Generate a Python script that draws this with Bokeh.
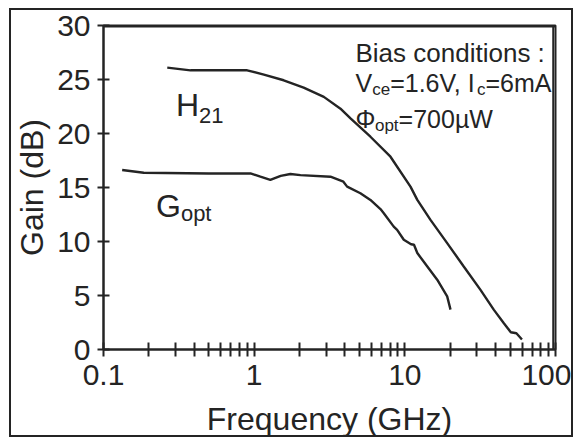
from bokeh.plotting import figure
from bokeh.models import Range1d, FixedTicker, Label
from bokeh.embed import file_html
from bokeh.resources import INLINE

# ---- data ----
h21_freq = [0.265, 0.378, 0.60, 0.898, 1.16, 1.57, 2.13, 2.90, 3.74, 4.36, 5.91, 8.03,
            10.9, 12.1, 14.8, 19.1, 24.6, 31.7, 38.9, 45.3, 50.5, 55.0, 59.9]
h21_gain = [26.1, 25.85, 25.85, 25.85, 25.45, 24.93, 24.25, 23.39, 22.3, 21.4, 19.7, 17.85,
            15.08, 13.85, 12.0, 9.85, 7.69, 5.54, 3.69, 2.46, 1.6, 1.5, 0.92]

gopt_freq = [0.133, 0.185, 0.50, 0.945, 1.10, 1.28, 1.50, 1.74, 2.03, 3.21, 3.91, 4.14,
             5.07, 5.91, 6.89, 7.25, 8.44, 8.89, 9.84, 11.0, 11.5, 12.1, 14.1, 16.4, 19.1, 20.1]
gopt_gain = [16.62, 16.37, 16.3, 16.31, 16.0, 15.7, 16.07, 16.25, 16.15, 16.0, 15.54, 15.08,
             14.47, 13.85, 13.0, 12.62, 11.38, 11.08, 10.16, 9.75, 9.70, 8.93, 7.69, 6.46, 4.92, 3.69]

x_major = [0.1, 1, 10, 100]
x_minor = [0.2, 0.3, 0.4, 0.5, 0.6, 0.7, 0.8, 0.9, 2, 3, 4, 5, 6, 7, 8, 9,
           20, 30, 40, 50, 60, 70, 80, 90]
x_labels = ["0.1", "1", "10", "100"]
y_ticks = [0, 5, 10, 15, 20, 25, 30]

INK = "#242424"
FONT = "Liberation Sans"

# page layout (px): element margin, css border, canvas size, frame edges
ML, MT, BW = 9, 8, 2
W, H = 564, 429
FL, FR, FT, FB = 103, 555, 25, 350
CX, CY = ML + BW, MT + BW  # canvas origin on the page

xr = Range1d(0.1, 100)
yr = Range1d(0, 30)
p = figure(width=W, height=H, x_axis_type="log", x_range=xr, y_range=yr,
           output_backend="svg", toolbar_location=None,
           min_border_left=FL - CX, min_border_right=CX + W - FR,
           min_border_top=FT - CY, min_border_bottom=CY + H - FB)
p.margin = (MT, 0, 0, ML)
p.styles = {"border": f"{BW}px solid {INK}"}
p.grid.visible = False
p.background_fill_color = "white"
p.border_fill_color = "white"
p.outline_line_color = INK
p.outline_line_width = 2

# top and right edges of the frame, drawn just inside it
y_edge = yr.end - 0.1
x_edge = xr.end / 10 ** 0.015
p.segment(x0=[xr.start, x_edge], y0=[y_edge, yr.start], x1=[xr.end, x_edge], y1=[y_edge, yr.end],
          line_color=INK, line_width=2)

p.line(h21_freq, h21_gain, line_color=INK, line_width=2.4)
p.line(gopt_freq, gopt_gain, line_color=INK, line_width=2.4)

# axes
xa = p.below[0]
xa.ticker = FixedTicker(ticks=x_major, minor_ticks=x_minor)
xa.major_label_overrides = {t: s for t, s in zip(x_major, x_labels)}
ya = p.left[0]
ya.ticker = FixedTicker(ticks=y_ticks)
for ax in (xa, ya):
    ax.axis_line_color = INK
    ax.axis_line_width = 2
    ax.major_tick_line_color = INK
    ax.major_tick_line_width = 2
    ax.minor_tick_line_color = INK
    ax.minor_tick_line_width = 2
    ax.major_label_text_font = FONT
    ax.major_label_text_font_size = "30px"
    ax.major_label_text_color = INK
    ax.axis_label_text_font = FONT
    ax.axis_label_text_font_size = "32px"
    ax.axis_label_text_font_style = "normal"
    ax.axis_label_text_color = INK
xa.major_tick_in = 7
xa.major_tick_out = 7
xa.minor_tick_in = 7
xa.minor_tick_out = 7
xa.major_label_standoff = 8
xa.axis_label = "Frequency (GHz)"
xa.axis_label_standoff = 13
ya.major_tick_in = 6
ya.major_tick_out = 6
ya.minor_tick_in = 0
ya.minor_tick_out = 0
ya.major_label_standoff = 7
ya.axis_label = "Gain (dB)"
ya.axis_label_standoff = 4

# ---- text labels ----
ADV = {'B': .667, 'i': .222, 'a': .556, 's': .5, ' ': .278, 'c': .5, 'o': .556, 'n': .556,
       'd': .556, 't': .278, ':': .278, 'V': .667, 'e': .556, '=': .584, '1': .556, '.': .278,
       '6': .556, ',': .278, 'I': .278, 'm': .833, 'A': .667, 'Φ': .778, 'p': .556, '7': .556,
       '0': .556, 'µ': .576, 'W': .944, 'H': .722, '2': .556, 'G': .778}


def px_to_x(px):
    return 10 ** ((px - FL) / (FR - FL) * 3 - 1)


def px_to_y(py):
    return (FB - py) / (FB - FT) * 30


def run(x0, pieces):
    x = x0
    for text, size, base in pieces:
        p.add_layout(Label(x=px_to_x(x), y=px_to_y(base), text=text, text_font=FONT,
                           text_font_size=f"{size}px", text_color=INK,
                           text_align="left", text_baseline="alphabetic"))
        x += sum(ADV.get(ch, .556) for ch in text) * size


run(175.5, [("H", 32, 105), ("21", 22, 115)])
run(155.5, [("G", 32, 206), ("opt", 22, 214)])
run(355, [("Bias conditions :", 26, 53)])
run(355, [("V", 25, 83), ("ce", 17, 89), ("=1.6V, I", 25, 83), ("c", 17, 89), ("=6mA", 25, 83)])
run(355, [("Φ", 25, 119), ("opt", 17, 125), ("=700µW", 25, 119)])

open("out.html", "w").write(file_html(p, INLINE))
